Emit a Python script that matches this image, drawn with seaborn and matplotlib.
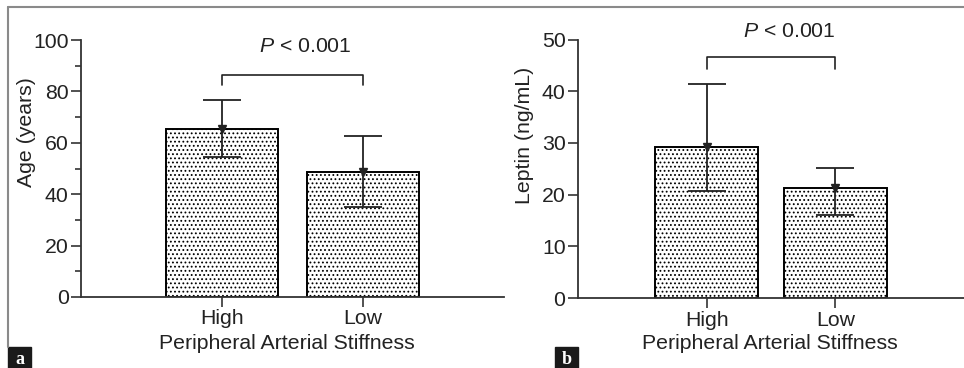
import matplotlib
matplotlib.use("Agg")
import matplotlib.pyplot as plt
import seaborn as sns
import numpy as np
import pandas as pd
from matplotlib.ticker import MultipleLocator

# data
groups = ["High", "Low"]
age_mean = [65.5, 48.6]
age_upper = [76.6, 62.6]
age_lower = [54.5, 35.0]
leptin_mean = [29.3, 21.3]
leptin_upper = [41.4, 25.1]
leptin_lower = [20.7, 16.1]
p_text = "< 0.001"

sns.set_style("ticks")
plt.rcParams['font.family'] = ['Liberation Sans', 'DejaVu Sans']
plt.rcParams['mathtext.fontset'] = 'custom'
plt.rcParams['mathtext.it'] = 'Liberation Sans:italic'
plt.rcParams['mathtext.rm'] = 'Liberation Sans'
plt.rcParams['hatch.color'] = '#8a8a8a'
plt.rcParams['hatch.linewidth'] = 0.8

ink = '#222222'
fs = 15.3

fig = plt.figure(figsize=(9.64, 3.68), dpi=100)
ax_a = fig.add_axes([81/964, 1-297/368, 423/964, 257/368])
ax_b = fig.add_axes([578/964, 1-298/368, 386/964, 258.5/368])


def draw_panel(ax, means, upper, lower, ylabel, ymax, major, minor,
               bracket_y, bracket_drop, p_y, p_x, ylab_pos, xlab_pos):
    df = pd.DataFrame({"group": groups, "value": means})
    sns.barplot(data=df, x="group", y="value", ax=ax, color="white",
                edgecolor="black", linewidth=1.4, width=0.8, errorbar=None,
                saturation=1)
    for p in ax.patches:
        p.set_hatch('....')
        p.set_facecolor('white')

    means = np.array(means)
    yerr = np.vstack([means - np.array(lower), np.array(upper) - means])
    ax.errorbar(np.arange(len(groups)), means, yerr=yerr, fmt='v',
                color=ink, ms=6, elinewidth=1.3, capsize=14, capthick=1.3,
                zorder=5)

    ax.set_xlim(-1, 2)
    ax.set_ylim(0, ymax)
    ax.yaxis.set_major_locator(MultipleLocator(major))
    if minor:
        ax.yaxis.set_minor_locator(MultipleLocator(minor))
    sns.despine(ax=ax)
    for s in ["left", "bottom"]:
        ax.spines[s].set_color('#333333')
        ax.spines[s].set_linewidth(1.3)
    ax.tick_params(axis='both', which='major', length=7, width=1.2,
                   labelsize=fs, colors='#333333', labelcolor=ink, pad=2)
    ax.tick_params(axis='y', which='minor', length=4, width=1.2,
                   colors='#333333')
    ax.tick_params(axis='x', pad=2)

    ax.set_ylabel(ylabel, fontsize=fs, color=ink)
    ax.yaxis.set_label_coords(*ylab_pos)
    ax.set_xlabel("Peripheral Arterial Stiffness", fontsize=fs, color=ink)
    ax.xaxis.set_label_coords(*xlab_pos)

    # significance bracket
    ax.plot([0, 0, 1, 1],
            [bracket_y - bracket_drop, bracket_y, bracket_y, bracket_y - bracket_drop],
            color=ink, lw=1.2, clip_on=False)
    ax.text(p_x, p_y, r"$\it{P}$ " + p_text, ha='center', va='center',
            fontsize=fs, color=ink, clip_on=False)


draw_panel(ax_a, age_mean, age_upper, age_lower, "Age (years)", 100, 20, 10,
           86.4, 4.0, 97.5, 0.59, (-0.106, 0.64), (0.487, -0.145))
draw_panel(ax_b, leptin_mean, leptin_upper, leptin_lower, "Leptin (ng/mL)", 50,
           10, None, 46.6, 2.4, 51.5, 0.64, (-0.114, 0.63), (0.497, -0.14))

# figure frame
frame_col = '#8a8a8a'
fig.add_artist(plt.Line2D([8/964, 1], [1-7/368, 1-7/368], color=frame_col,
                          lw=1.5, transform=fig.transFigure))
fig.add_artist(plt.Line2D([8/964, 8/964], [1-7/368, 1-347/368], color=frame_col,
                          lw=1.5, transform=fig.transFigure))

# panel letters
for label, x0 in [("a", 8), ("b", 555)]:
    fig.add_artist(plt.Rectangle((x0/964, 0), 23/964, 21/368, color='#1a1a1a',
                                 transform=fig.transFigure))
    fig.text((x0 + 11.5)/964, 9/368, label, color='white', fontsize=13,
             fontweight='bold', family=['Liberation Serif', 'DejaVu Serif'],
             ha='center', va='center')

fig.savefig("out.png", dpi=100, facecolor='white')
